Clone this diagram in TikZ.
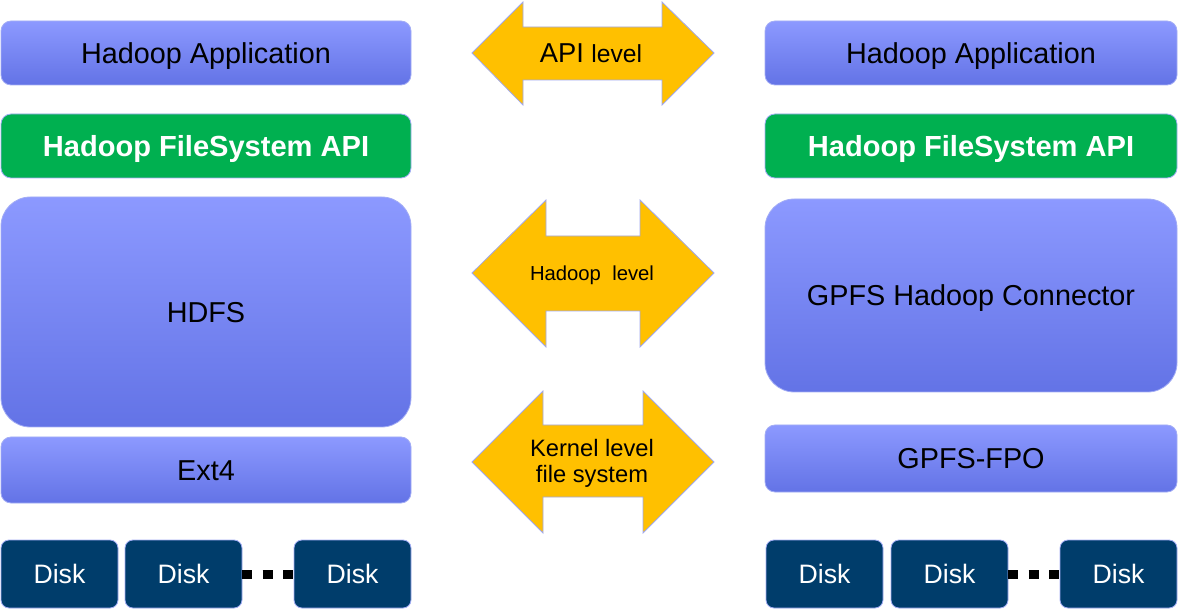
\documentclass[tikz,border=0pt]{standalone}
\usepackage{fontspec}
\setmainfont{Liberation Sans}
\definecolor{bluetop}{HTML}{8C99FF}
\definecolor{bluebot}{HTML}{6373E6}
\definecolor{boxline}{HTML}{A3ADF5}
\definecolor{apigreen}{HTML}{00B050}
\definecolor{disknavy}{HTML}{003D6B}
\definecolor{arrowfill}{HTML}{FFC000}
\definecolor{arrowline}{HTML}{A0A8EE}
\begin{document}
\begin{tikzpicture}[x=0.75pt,y=-0.75pt,
  layer/.style={rounded corners=7.5pt, draw=boxline, line width=0.6pt,
    inner sep=0pt, outer sep=0pt, minimum width=#1,
    font=\fontsize{21.6}{26}\selectfont, text height=15.5pt, text depth=0pt},
  bluebox/.style={layer=#1, top color=bluetop, bottom color=bluebot},
  bigbox/.style={bluebox=#1, rounded corners=22pt},
  greenbox/.style={layer=#1, fill=apigreen, text=white,
    font=\bfseries\fontsize{21.8}{26}\selectfont},
  diskbox/.style={rounded corners=6pt, draw=boxline, line width=0.6pt, fill=disknavy,
    text=white, inner sep=0pt, outer sep=0pt, minimum width=87.75pt, minimum height=51pt,
    font=\fontsize{20}{24}\selectfont, text height=14.3pt, text depth=0pt},
  dots/.style={line width=6.75pt, dash pattern=on 7.5pt off 8pt},
  arrowshape/.style={fill=arrowfill, draw=arrowline, line width=0.6pt},
  arrowtext/.style={inner sep=0pt, align=center}
]
\useasboundingbox (0,0) rectangle (1178,609);

% left stack
\node[bluebox=307.5pt, minimum height=48pt] (lapp) at (206,53) {Hadoop Application};
\node[greenbox=307.5pt, minimum height=48pt] (lapi) at (206,146) {Hadoop FileSystem API};
\node[bigbox=307.5pt, minimum height=172.5pt] (hdfs) at (206,312) {HDFS};
\node[bluebox=307.5pt, minimum height=49.5pt] (ext4) at (206,470) {Ext4};
\node[diskbox] (ld1) at (59.5,574) {Disk};
\node[diskbox] (ld2) at (183.5,574) {Disk};
\node[diskbox] (ld3) at (352.5,574) {Disk};
\draw[dots] (ld2.east) -- (ld3.west);

% right stack
\node[bluebox=309pt, minimum height=48pt] (rapp) at (971,53) {Hadoop Application};
\node[greenbox=309pt, minimum height=48pt] (rapi) at (971,146) {Hadoop FileSystem API};
\node[bigbox=309pt, minimum height=144.75pt] (conn) at (971,295.5) {GPFS Hadoop Connector};
\node[bluebox=309pt, minimum height=50.25pt] (fpo) at (971,458.5) {GPFS-FPO};
\node[diskbox] (rd1) at (824.5,574) {Disk};
\node[diskbox] (rd2) at (949.5,574) {Disk};
\node[diskbox] (rd3) at (1118.5,574) {Disk};
\draw[dots] (rd2.east) -- (rd3.west);

% double arrows
\path[arrowshape] (472,53) -- (523,2) -- (523,27) -- (662,27) -- (662,2) -- (714,53)
  -- (662,105) -- (662,80) -- (523,80) -- (523,105) -- cycle;
\node[arrowtext, text height=14.5pt, text depth=0pt] (tapi) at (591,53)
  {\fontsize{20.5}{24}\selectfont API \fontsize{18.5}{24}\selectfont level};

\path[arrowshape] (472,273) -- (546,200) -- (546,236) -- (640,236) -- (640,200) -- (714,273)
  -- (640,347) -- (640,311) -- (546,311) -- (546,347) -- cycle;
\node[arrowtext, font=\fontsize{15.2}{18}\selectfont, text height=10.9pt, text depth=0pt] (thad) at (592,273)
  {Hadoop\ \ level};

\path[arrowshape] (472,462) -- (543,391) -- (543,425) -- (643,425) -- (643,391) -- (714,462)
  -- (643,533) -- (643,497) -- (543,497) -- (543,533) -- cycle;
\node[arrowtext, font=\fontsize{17.8}{19.5}\selectfont] (tker) at (592,463)
  {Kernel level\\file system};
\end{tikzpicture}
\end{document}
